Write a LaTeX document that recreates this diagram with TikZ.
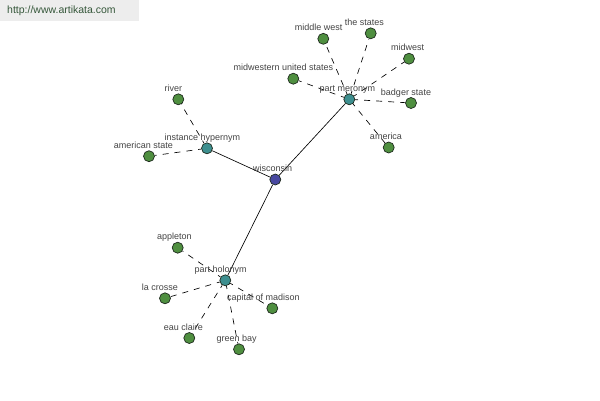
\documentclass[tikz,border=0pt]{standalone}
\usepackage{fontspec}
\setmainfont{Liberation Sans}
\usetikzlibrary{calc}
\definecolor{leafc}{HTML}{4F8F40}
\definecolor{hubc}{HTML}{3D8F8F}
\definecolor{rootc}{HTML}{4848A0}
\definecolor{edgec}{HTML}{1E2A1E}
\definecolor{labc}{HTML}{444444}
\definecolor{hdrbg}{HTML}{EDEDED}
\definecolor{hdrtx}{HTML}{35573A}
\tikzset{
  dot/.style={circle, minimum size=11pt, inner sep=0pt, draw=edgec, line width=0.7pt},
  leaf/.style={dot, fill=leafc},
  hub/.style={dot, fill=hubc},
  root/.style={dot, fill=rootc},
  lab/.style={anchor=base, inner sep=0pt, text=labc, font=\fontsize{9}{10}\selectfont},
  solidedge/.style={draw=black, line width=0.65pt},
  dashedge/.style={draw=black, line width=0.65pt, dash pattern=on 6pt off 6pt, dash phase=3pt},
}
\begin{document}
\begin{tikzpicture}[x=1pt, y=-1pt]
\useasboundingbox (0,0) rectangle (600,400);
\fill[white] (0,0) rectangle (600,400);
% header
\fill[hdrbg] (0,0) rectangle (139,21);
\node[anchor=west, inner sep=0pt, text=hdrtx, font=\fontsize{10.5}{12}\selectfont] (hdr) at (7,11) {http://www.artikata.com};

% nodes
\node[root] (wis) at (275.3,179.5) {};
\node[hub] (mer) at (349.3,99.3) {};
\node[hub] (hyp) at (207,148.3) {};
\node[hub] (hol) at (225.3,280.3) {};

\node[leaf] (mw) at (323.3,38.8) {};
\node[leaf] (ts) at (370.7,33.3) {};
\node[leaf] (mid) at (409,58.7) {};
\node[leaf] (mus) at (293.3,78.7) {};
\node[leaf] (bs) at (411,103) {};
\node[leaf] (am) at (388.7,147.5) {};
\node[leaf] (riv) at (178.3,99.3) {};
\node[leaf] (ams) at (149,156.2) {};
\node[leaf] (app) at (177.7,247.7) {};
\node[leaf] (lc) at (165,298.3) {};
\node[leaf] (cap) at (272.3,308.3) {};
\node[leaf] (ec) at (189.3,338) {};
\node[leaf] (gb) at (239,349.3) {};

% edges
\draw[solidedge] (wis) -- (mer);
\draw[solidedge] (wis) -- (hyp);
\draw[solidedge] (wis) -- (hol);
\foreach \l in {mw,ts,mid,mus,bs,am} \draw[dashedge] (mer) -- (\l);
\foreach \l in {riv,ams} \draw[dashedge] (hyp) -- (\l);
\foreach \l in {app,lc,cap,ec,gb} \draw[dashedge] (hol) -- (\l);

% labels
\node[lab] (wis-l) at ($(wis)+(-2.6,-8)$) {wisconsin};
\node[lab] (mer-l) at ($(mer)+(-2,-8)$) {part meronym};
\node[lab] (hyp-l) at ($(hyp)+(-4.7,-8)$) {instance hypernym};
\node[lab] (hol-l) at ($(hol)+(-4.6,-8)$) {part holonym};
\node[lab] (mw-l) at ($(mw)+(-4.6,-8)$) {middle west};
\node[lab] (ts-l) at ($(ts)+(-6.4,-8)$) {the states};
\node[lab] (mid-l) at ($(mid)+(-1.3,-8)$) {midwest};
\node[lab] (mus-l) at ($(mus)+(-10,-8)$) {midwestern united states};
\node[lab] (bs-l) at ($(bs)+(-5,-8)$) {badger state};
\node[lab] (am-l) at ($(am)+(-2.7,-8)$) {america};
\node[lab] (riv-l) at ($(riv)+(-5,-8)$) {river};
\node[lab] (ams-l) at ($(ams)+(-5.7,-8)$) {american state};
\node[lab] (app-l) at ($(app)+(-3.4,-8)$) {appleton};
\node[lab] (lc-l) at ($(lc)+(-5,-8)$) {la crosse};
\node[lab] (cap-l) at ($(cap)+(-9,-8)$) {capital of madison};
\node[lab] (ec-l) at ($(ec)+(-6,-8)$) {eau claire};
\node[lab] (gb-l) at ($(gb)+(-2.3,-8)$) {green bay};
\end{tikzpicture}
\end{document}
